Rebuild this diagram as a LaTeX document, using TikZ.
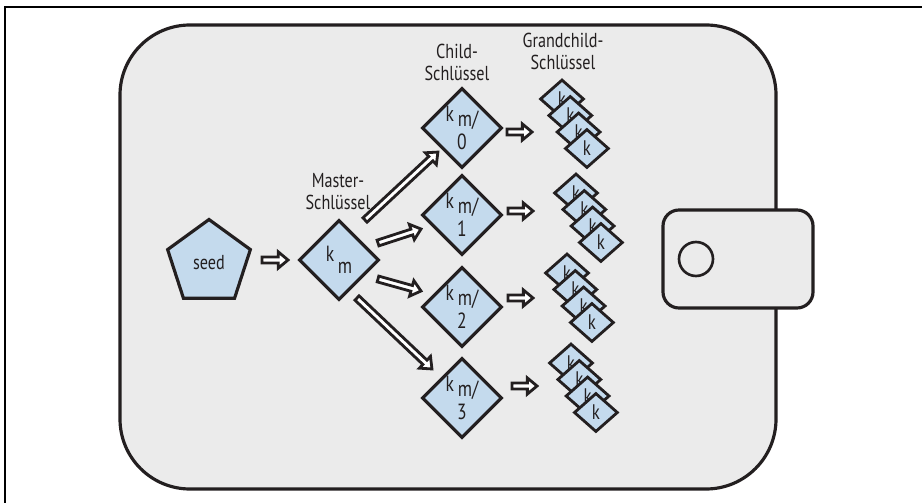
\documentclass[tikz,border=0pt]{standalone}
\usepackage{fontspec}
\setmainfont{PT Sans}[FakeStretch=0.8]
\usetikzlibrary{shapes.geometric,calc}

\definecolor{keyblue}{RGB}{196,218,237}
\definecolor{walletgray}{RGB}{235,235,235}
\definecolor{ink}{RGB}{35,31,32}

\newcommand\fatarrow[2]{%
  \draw[fatline] let \p1=($(#2)-(#1)$), \n1={atan2(\y1,\x1)}, \n2={veclen(\x1,\y1)} in
    [shift={(#1)}, rotate=\n1]
    (0pt,1.7pt) -- ({\n2-5.5pt},1.7pt) -- ({\n2-5.5pt},4.6pt) -- (\n2,0pt)
    -- ({\n2-5.5pt},-4.6pt) -- ({\n2-5.5pt},-1.7pt) -- (0pt,-1.7pt) -- cycle;}

\begin{document}
\begin{tikzpicture}[x=0.02cm, y=-0.02cm,
  every node/.style={text=ink, font=\fontsize{11.5}{12.5}\selectfont},
  wallet/.style={draw=ink, line width=1.8pt, fill=walletgray},
  seedbox/.style={draw=ink, line width=1.8pt, fill=keyblue, regular polygon, regular polygon sides=5, minimum size=1.74cm, inner sep=0pt},
  mkey/.style={draw=ink, line width=1.8pt, fill=keyblue, diamond, minimum width=1.6cm, minimum height=1.6cm, inner sep=0pt, align=center},
  ckey/.style={mkey, font=\fontsize{12.5}{16}\selectfont},
  gkey/.style={draw=ink, line width=1.6pt, fill=keyblue, diamond, minimum width=0.88cm, minimum height=0.78cm, inner sep=0pt, font=\fontsize{12}{12}\selectfont},
  fatline/.style={draw=ink, line width=1.6pt, fill=white, line join=miter}]

\useasboundingbox (0,0) rectangle (922,503);
\draw[line width=0.6pt, black] (5,503) -- (5,7) -- (922,7);

\draw[wallet, rounded corners=1.4cm] (120,25) rectangle (776,489);
\draw[wallet, rounded corners=0.32cm] (663,210) rectangle (813,308);
\draw[draw=ink, line width=1.5pt] (696,259) circle (0.34cm);

\node[seedbox] (seed) at (209,263) {seed};
\node[mkey, font=\fontsize{12.5}{14}\selectfont] (km) at (339,260) {k\,\raisebox{-7pt}{m}};
\node[align=center] (mlabel) at (338,192) {Master-\\Schlüssel};

\node[ckey] (c0) at (462,128) {k\,\raisebox{-3pt}{m/}\\0};
\node[ckey] (c1) at (462,215) {k\,\raisebox{-3pt}{m/}\\1};
\node[ckey] (c2) at (462,307) {k\,\raisebox{-3pt}{m/}\\2};
\node[ckey] (c3) at (462,398) {k\,\raisebox{-3pt}{m/}\\3};
\node[align=center] (clabel) at (457,62) {Child-\\Schlüssel};
\node[align=center] (glabel) at (563,51) {Grandchild-\\Schlüssel};

\foreach \c/\dx/\dy in {0/100/-29, 1/114/-22, 2/105/-34, 3/109/-35}
  \foreach \i in {0,...,3}
    \node[gkey] (g\c\i) at ($(c\c)+({\dx+8.3*\i},{\dy+16.5*\i})$) {k};

\coordinate (s0) at ($(seed)+(53,-3)$);
\coordinate (s1) at ($(km)+(-51,0)$);
\fatarrow{s0}{s1}

\coordinate (a0) at ($(km)+(26,-40)$);
\coordinate (b0) at ($(c0)+(-24,24)$);
\coordinate (a1) at ($(km)+(39,-17)$);
\coordinate (b1) at ($(c1)+(-41,14)$);
\coordinate (a2) at ($(km)+(39,19)$);
\coordinate (b2) at ($(c2)+(-41,-16)$);
\coordinate (a3) at ($(km)+(18,38)$);
\coordinate (b3) at ($(c3)+(-30,-29)$);
\foreach \i in {0,...,3} {
  \fatarrow{a\i}{b\i}
}

\foreach \c/\dx/\dy in {0/45/4, 1/46/-4, 2/46/-9, 3/50/-12} {
  \coordinate (p\c) at ($(c\c)+(\dx,\dy)$);
  \coordinate (q\c) at ($(c\c)+({\dx+25},\dy)$);
  \fatarrow{p\c}{q\c}
}
\end{tikzpicture}
\end{document}
